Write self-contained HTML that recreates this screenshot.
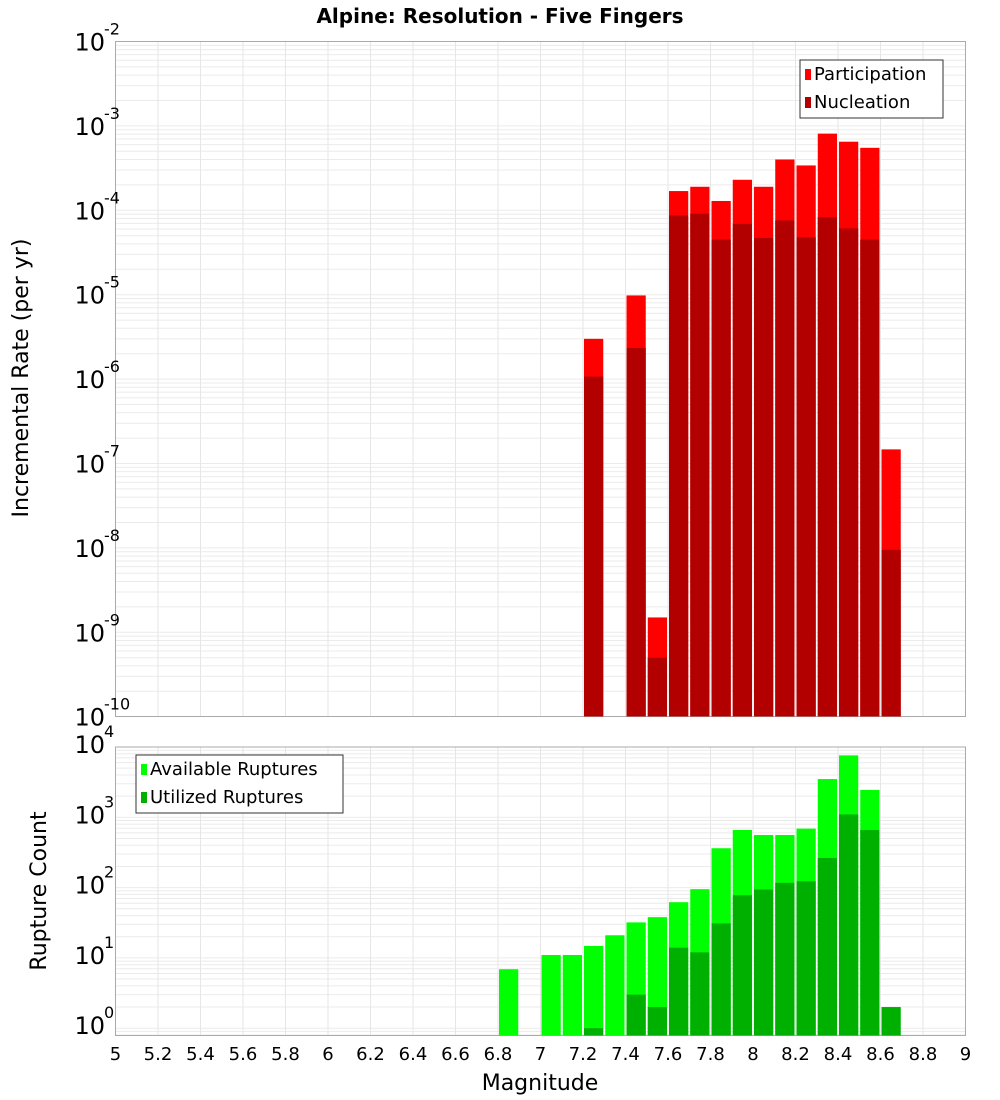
<!DOCTYPE html>
<html><head><meta charset="utf-8"><style>
body{margin:0;background:#fff;}
svg{display:block;font-family:"DejaVu Sans","Liberation Sans",sans-serif;}
</style></head><body>
<svg id="chart" width="1000" height="1100" viewBox="0 0 1000 1100">
<text x="500" y="23" text-anchor="middle" font-size="20" font-weight="bold">Alpine: Resolution - Five Fingers</text>
<g id="topPlot"></g>
<g id="botPlot"></g>
<text transform="translate(28,378) rotate(-90)" text-anchor="middle" font-size="22">Incremental Rate (per yr)</text>
<text transform="translate(46,891) rotate(-90)" text-anchor="middle" font-size="22">Rupture Count</text>
<text x="540" y="1090" text-anchor="middle" font-size="22">Magnitude</text>
</svg>
<script>
const magBins = [6.8,6.9,7.0,7.1,7.2,7.3,7.4,7.5,7.6,7.7,7.8,7.9,8.0,8.1,8.2,8.3,8.4,8.5,8.6];
const participation = [0,0,0,0,3.0e-6,0,9.8e-6,1.5e-9,1.69e-4,1.9e-4,1.29e-4,2.3e-4,1.9e-4,4.0e-4,3.4e-4,8.1e-4,6.5e-4,5.5e-4,1.47e-7];
const nucleation = [0,0,0,0,1.07e-6,0,2.34e-6,5.0e-10,8.7e-5,9.1e-5,4.5e-5,6.9e-5,4.7e-5,7.6e-5,4.8e-5,8.3e-5,6.1e-5,4.5e-5,9.5e-9];
const available = [6.9,0,11,11,14.8,21,32,38,62,95,363,660,560,560,690,3500,7600,2450,0];
const utilized = [0,0,0,0,1,0,3,2,14,12,31,78,94,117,123,264,1100,660,2];
const xTickLabels = ["5","5.2","5.4","5.6","5.8","6","6.2","6.4","6.6","6.8","7","7.2","7.4","7.6","7.8","8","8.2","8.4","8.6","8.8","9"];
const topExps = [-2,-3,-4,-5,-6,-7,-8,-9,-10];
const botExps = [4,3,2,1,0];

const NS="http://www.w3.org/2000/svg";
const L=115.5,R=965.5;
function xs(m){return L+(m-5)/4*(R-L);}
function yTop(v){return 41.5+(-2-Math.log10(v))*84.4;}
function yBot(v){return 747+(4-Math.log10(v))*70.3;}
function mk(p,tag,at){const e=document.createElementNS(NS,tag);for(const k in at)e.setAttribute(k,at[k]);p.appendChild(e);return e;}

function frame(g,y0,y1,yf,lo,hi){
  for(let d=lo;d<hi;d++)for(let k=1;k<10;k++){const v=k*Math.pow(10,d);const y=yf(v);if(y<y0||y>y1)continue;
    const ln=mk(g,'line',{x1:L,x2:R,y1:y,y2:y,stroke:'#ebebeb','stroke-width':1});
    
    }
  xTickLabels.forEach(t=>{const x=xs(+t);
    const ln=mk(g,'line',{x1:x,x2:x,y1:y0,y2:y1,stroke:'#e6e6e6','stroke-width':1});
    
    });
  const r=mk(g,'rect',{x:L,y:y0,width:R-L,height:y1-y0,fill:'none',stroke:'#aaa','stroke-width':1});
  
  
}
function yLabel(g,y,e){
  const t=mk(g,'text',{x:105,y:y+9,'text-anchor':'end','font-size':24});
  
  
  t.textContent='10';
  const s=mk(g,'text',{x:104,y:y-7,'font-size':16});
  
  
  s.textContent=String(e);
}
function bars(g,vals,yf,ybase,color,name){
  magBins.forEach((m,i)=>{const v=vals[i];if(!(v>0))return;
    const x0=xs(m)+1,x1=xs(m+0.1)-1,y=yf(v);
    const r=mk(g,'rect',{x:x0,y:y,width:x1-x0,height:ybase-y,fill:color});
    
    });
}
function legend(g,x,y,w,items){
  const b=mk(g,'rect',{x:x,y:y,width:w,height:58,fill:'#fff',stroke:'#333','stroke-width':1});
  
  
  items.forEach((it,i)=>{
    const s=mk(g,'rect',{x:x+5,y:y+9+i*28,width:6,height:11,fill:it[1]});
    
    
    const t=mk(g,'text',{x:x+14,y:y+20+i*28,'font-size':18});
    
    
    t.textContent=it[0];});
}
const gTop=document.getElementById('topPlot'),gBot=document.getElementById('botPlot');
frame(gTop,41.5,716.5,yTop,-10,-2);
frame(gBot,747,1035.5,yBot,-1,4);
bars(gTop,participation,yTop,716.5,'#ff0000','participation');
bars(gTop,nucleation,yTop,716.5,'#b20000','nucleation');
bars(gBot,available,yBot,1035.5,'#00ff00','available');
bars(gBot,utilized,yBot,1035.5,'#00b000','utilized');
topExps.forEach(e=>yLabel(gTop,yTop(Math.pow(10,e)),e));
botExps.forEach(e=>yLabel(gBot,yBot(Math.pow(10,e))-3,e));
xTickLabels.forEach(t=>{const x=mk(gBot,'text',{x:xs(+t),y:1060,'text-anchor':'middle','font-size':18});
  
  
  x.textContent=t;});
legend(gTop,800,60,143,[['Participation','#ff0000'],['Nucleation','#b20000']]);
legend(gBot,136,755,207,[['Available Ruptures','#00ff00'],['Utilized Ruptures','#00b000']]);
</script>
</body></html>
